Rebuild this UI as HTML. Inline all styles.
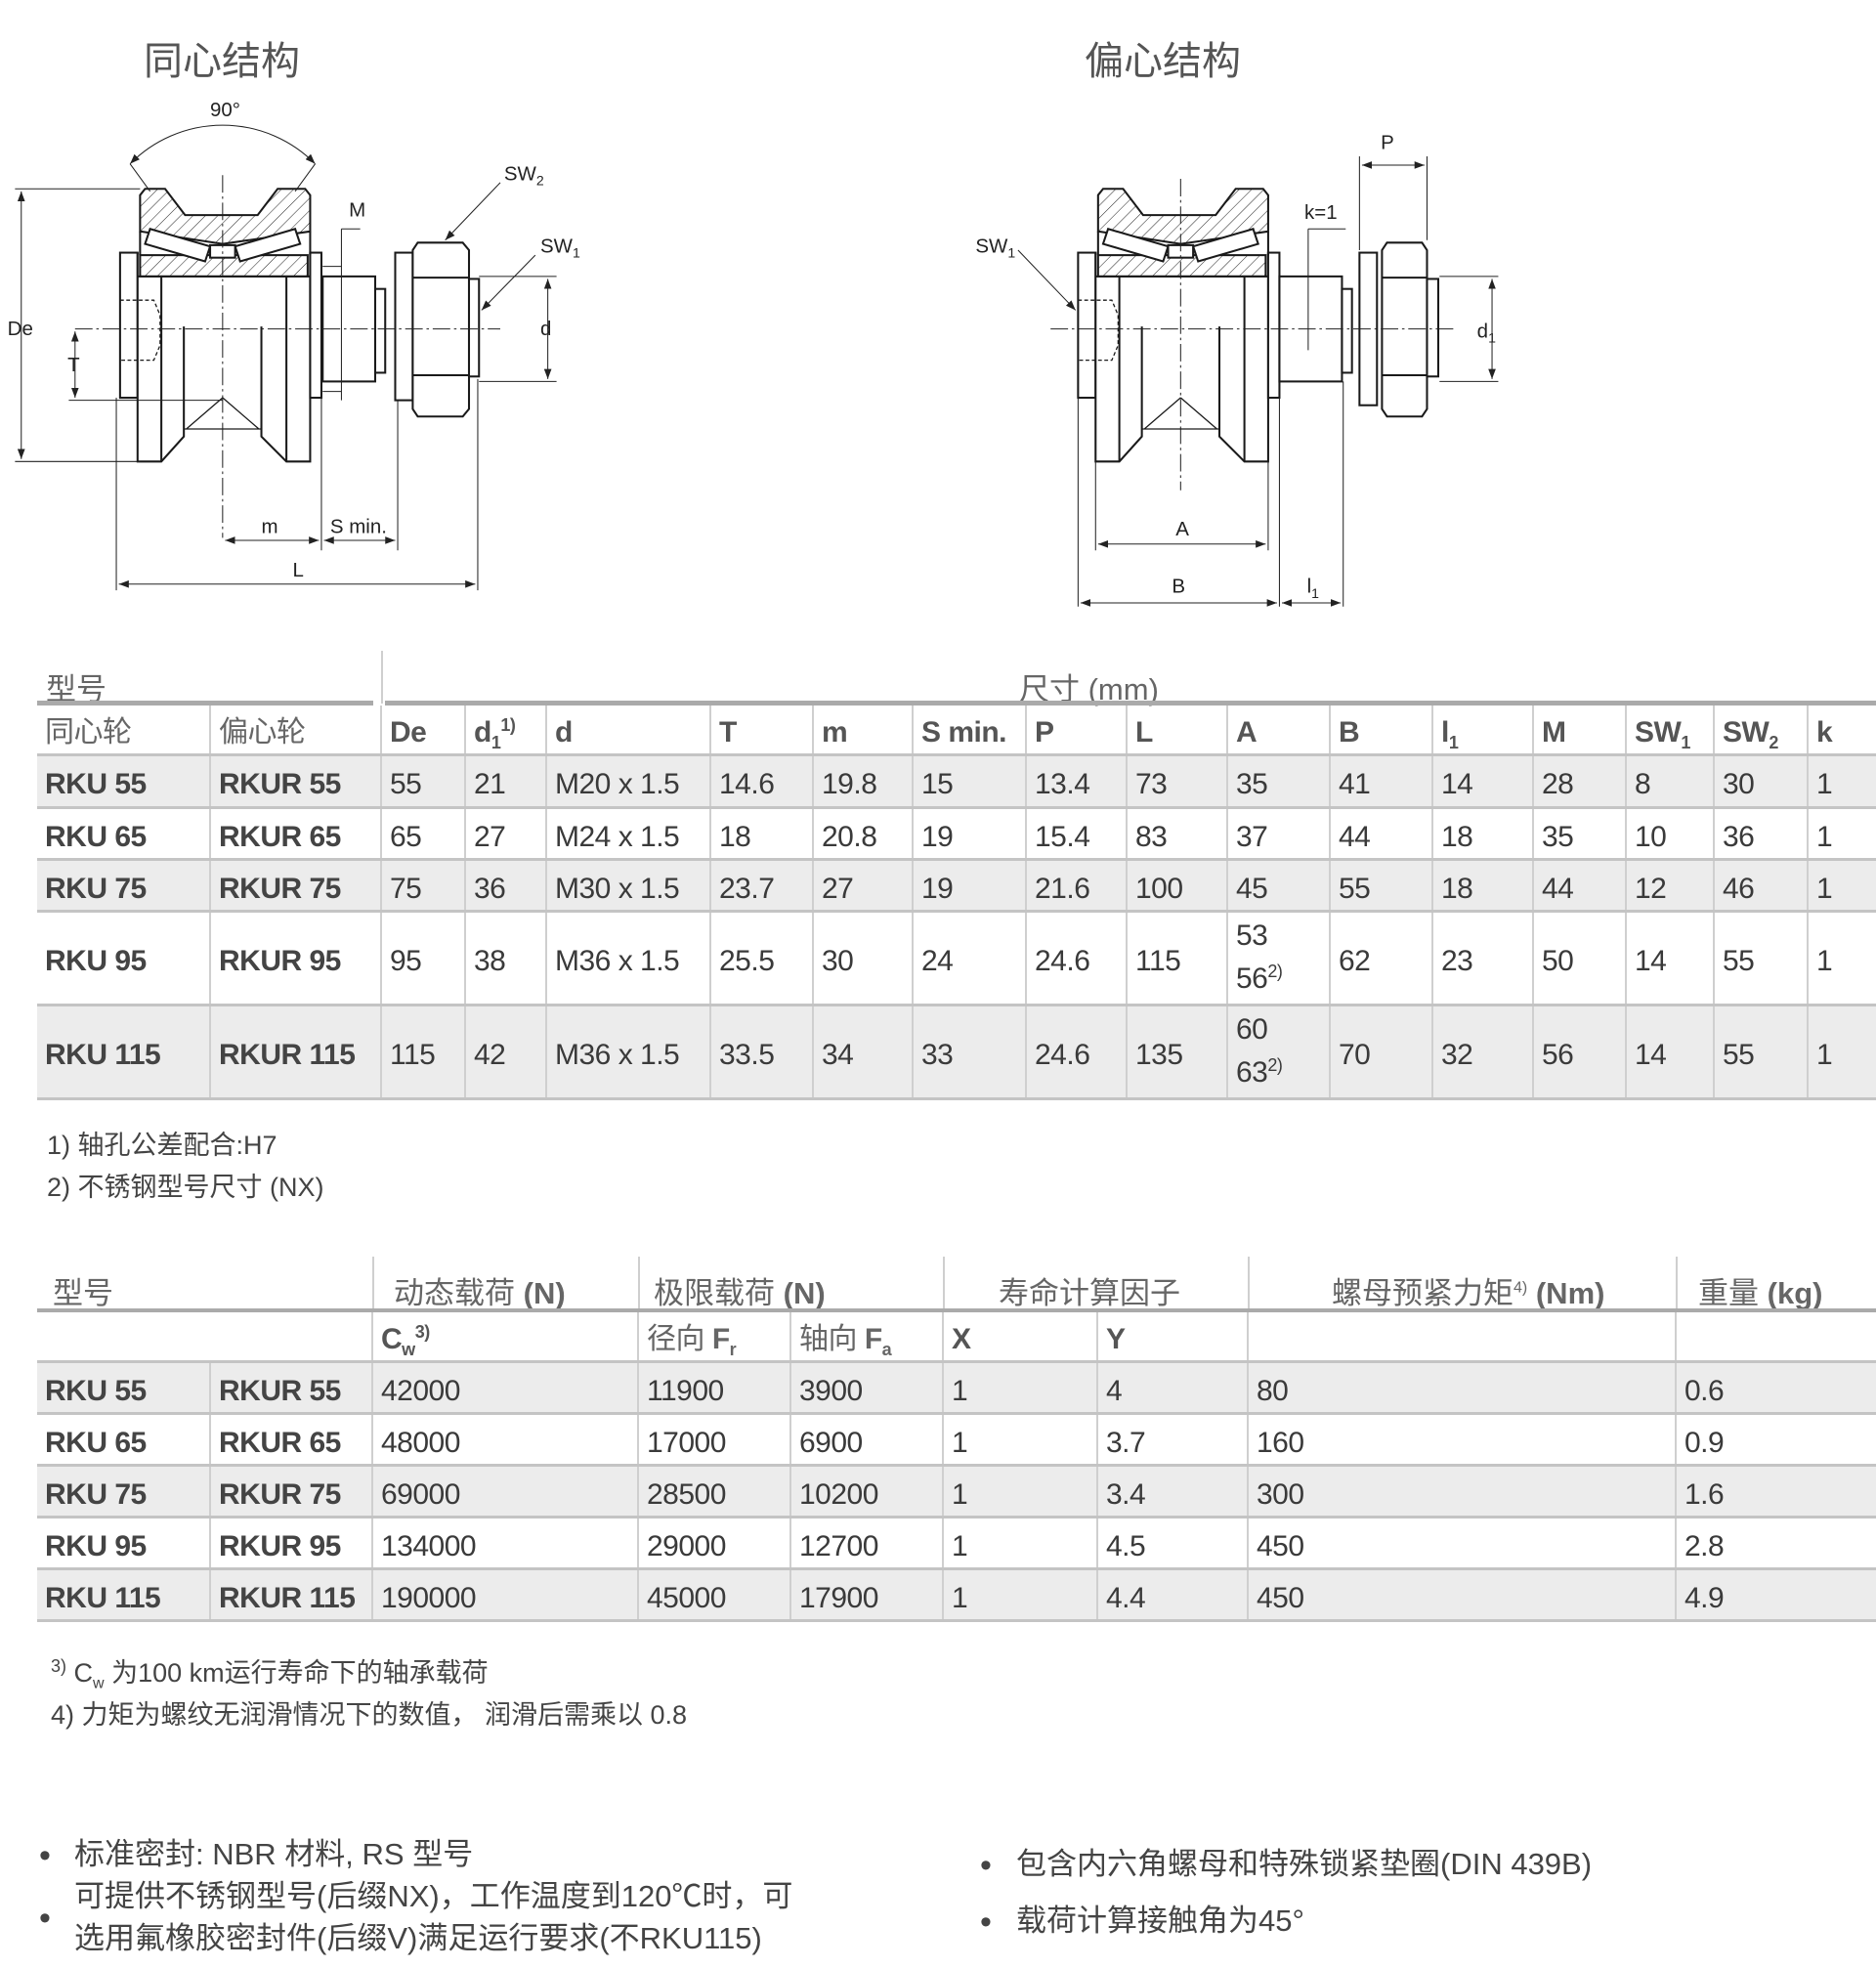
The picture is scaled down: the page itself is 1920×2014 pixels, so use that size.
<!DOCTYPE html>
<html><head><meta charset="utf-8">
<style>
*{margin:0;padding:0;box-sizing:border-box}
body{width:1920px;height:2014px;background:#fff;position:relative;overflow:hidden;font-family:"Liberation Sans Narrow","Liberation Sans","Noto Sans CJK SC",sans-serif;color:#3a3a3a}
.t{position:absolute;white-space:nowrap}
.cn{font-family:"Liberation Sans Narrow","Liberation Sans","Noto Sans CJK SC",sans-serif}
table{position:absolute;border-collapse:collapse;table-layout:fixed;font-size:30px;letter-spacing:-0.5px}
td{border-left:2px solid #cfcfcf;padding:8px 0 0 8px;vertical-align:middle;white-space:nowrap;overflow:visible;line-height:36px}
td:first-child{border-left:none}
tr.r td{border-bottom:3px solid #c4c4c4}
tr.s td{background:#ececec}
.b{font-weight:bold;color:#444}
.h{color:#555;font-weight:bold}
.hc{color:#666;font-weight:normal}
sub,sup{font-size:60%;line-height:0}
</style></head><body>

<div class="t cn" style="left:147px;top:30px;font-size:40px;color:#555">同心结构</div>
<div class="t cn" style="left:1110px;top:30px;font-size:40px;color:#555">偏心结构</div>

<svg style="position:absolute;left:0;top:0" width="1920" height="640" viewBox="0 0 1500 500">
<defs>
<pattern id="hp" width="7" height="7" patternUnits="userSpaceOnUse" patternTransform="rotate(45)"><line x1="0" y1="0" x2="0" y2="7" stroke="#222" stroke-width="0.8"/></pattern>
<marker id="ar" markerWidth="8" markerHeight="6" refX="8" refY="3" orient="auto-start-reverse" markerUnits="userSpaceOnUse"><path d="M0,0 L8,3 L0,6 z" fill="#222"/></marker>
<g id="wheel" fill="none" stroke="#1a1a1a" stroke-width="1.6">
 <rect x="-82" y="202" width="14" height="116" fill="#fff"/>
 <path d="M-68,202 V369 H-49 L-31,349 V261 M31,261 V349 L51,369 H70 V202" fill="#fff"/>
 <line x1="-49" y1="221" x2="-49" y2="369"/><line x1="51" y1="221" x2="51" y2="369"/>
 <line x1="-68" y1="221" x2="70" y2="221"/>
 <rect x="70" y="202" width="9" height="116" fill="#fff"/>
 <rect x="-66" y="204" width="134" height="17" fill="url(#hp)"/>
 <path d="M-66,156 L-62,151 H-46 L-30,172 H28 L44,151 H66 L70,156 V185 L0,195 L-66,185 Z" fill="url(#hp)"/>
 <path d="M-58,183 L-10,197 L-14,209 L-62,195 Z" fill="#fff"/>
 <path d="M58,183 L10,197 L14,209 L62,195 Z" fill="#fff"/>
 <rect x="-10" y="196" width="20" height="10" fill="#fff"/>
 <line x1="-66" y1="185" x2="-66" y2="204"/><line x1="70" y1="185" x2="70" y2="204"/>
 <path d="M0,318 L-29,343 M0,318 L29,343 M-31,343 H31" stroke-width="1"/>
 <path d="M-82,240 H-55 L-50,252 V276 L-55,288 H-82" stroke-dasharray="3,2" stroke-width="1"/>
</g>
</defs>

<use href="#wheel" x="178" y="0"/>
<g fill="#fff" stroke="#1a1a1a" stroke-width="1.6">
 <rect x="258" y="221" width="42" height="84"/>
 <rect x="300" y="231" width="8" height="67"/>
 <rect x="316" y="202" width="14" height="118"/>
 <path d="M334,194 H370 L375,200 V327 L370,333 H334 L330,327 V200 Z"/>
 <path d="M330,222 H375 M330,300 H375" fill="none"/>
 <rect x="375" y="223" width="8" height="78"/>
</g>
<g stroke="#222" stroke-width="0.8" fill="none">
 <path d="M60,263 H400" stroke-dasharray="14,3,2,3"/>
 <path d="M178,140 V430" stroke-dasharray="14,3,2,3"/>
 <path d="M12,151 H112 M12,369 H112"/>
 <line x1="17" y1="153" x2="17" y2="367" marker-start="url(#ar)" marker-end="url(#ar)"/>
 <path d="M55,320 H178"/>
 <line x1="60" y1="265" x2="60" y2="318" marker-start="url(#ar)" marker-end="url(#ar)"/>
 <path d="M383,221 H445 M383,305 H445"/>
 <line x1="438" y1="223" x2="438" y2="303" marker-start="url(#ar)" marker-end="url(#ar)"/>
 <path d="M273,183 H288 M273,183 V320 M258,213 H273 M258,313 H273"/>
 <path d="M257,318 V440 M318,320 V440 M93,318 V472 M382,303 V472"/>
 <line x1="180" y1="432" x2="255" y2="432" marker-start="url(#ar)" marker-end="url(#ar)"/>
 <line x1="259" y1="432" x2="316" y2="432" marker-start="url(#ar)" marker-end="url(#ar)"/>
 <line x1="95" y1="467" x2="380" y2="467" marker-start="url(#ar)" marker-end="url(#ar)"/>
 <path d="M104,131 A104,104 0 0 1 252,131" marker-start="url(#ar)" marker-end="url(#ar)"/>
 <path d="M104,131 L120,153 M252,131 L236,153"/>
 <line x1="400" y1="146" x2="356" y2="192" marker-end="url(#ar)"/>
 <line x1="428" y1="204" x2="385" y2="248" marker-end="url(#ar)"/>
</g>
<g font-family="Liberation Sans Narrow, Liberation Sans, sans-serif" font-size="16" fill="#222">
 <text x="168" y="93">90°</text>
 <text x="6" y="268">De</text>
 <text x="54" y="297">T</text>
 <text x="432" y="268">d</text>
 <text x="279" y="173">M</text>
 <text x="209" y="426">m</text>
 <text x="264" y="426">S min.</text>
 <text x="234" y="461">L</text>
 <text x="403" y="144">SW<tspan font-size="11" dy="4">2</tspan></text>
 <text x="432" y="202">SW<tspan font-size="11" dy="4">1</tspan></text>
</g>

<use href="#wheel" x="944" y="0"/>
<g fill="#fff" stroke="#1a1a1a" stroke-width="1.6">
 <rect x="1023" y="221" width="50" height="84"/>
 <rect x="1073" y="231" width="8" height="67"/>
 <rect x="1087" y="202" width="14" height="122"/>
 <path d="M1109,194 H1137 L1141,200 V327 L1137,333 H1109 L1105,327 V200 Z"/>
 <path d="M1105,222 H1141 M1105,300 H1141" fill="none"/>
 <rect x="1141" y="223" width="9" height="78"/>
</g>
<g stroke="#222" stroke-width="0.8" fill="none">
 <path d="M840,263 H1165" stroke-dasharray="14,3,2,3"/>
 <path d="M944,143 V392" stroke-dasharray="14,3,2,3"/>
 <path d="M1087,125 V200 M1141,125 V192"/>
 <line x1="1089" y1="132" x2="1139" y2="132" marker-start="url(#ar)" marker-end="url(#ar)"/>
 <path d="M1046,183 H1076 M1046,183 V280"/>
 <path d="M1151,221 H1198 M1151,305 H1198"/>
 <line x1="1193" y1="223" x2="1193" y2="303" marker-start="url(#ar)" marker-end="url(#ar)"/>
 <path d="M862,318 V485 M876,369 V440 M1014,369 V440 M1023,318 V485 M1074,305 V485"/>
 <line x1="878" y1="435" x2="1012" y2="435" marker-start="url(#ar)" marker-end="url(#ar)"/>
 <line x1="864" y1="482" x2="1021" y2="482" marker-start="url(#ar)" marker-end="url(#ar)"/>
 <line x1="1025" y1="482" x2="1072" y2="482" marker-start="url(#ar)" marker-end="url(#ar)"/>
 <line x1="814" y1="200" x2="860" y2="248" marker-end="url(#ar)"/>
</g>
<g font-family="Liberation Sans Narrow, Liberation Sans, sans-serif" font-size="16" fill="#222">
 <text x="1104" y="119">P</text>
 <text x="1043" y="175">k=1</text>
 <text x="1181" y="270">d<tspan font-size="11" dy="4">1</tspan></text>
 <text x="940" y="428">A</text>
 <text x="937" y="474">B</text>
 <text x="1045" y="474">l<tspan font-size="11" dy="4">1</tspan></text>
 <text x="780" y="202">SW<tspan font-size="11" dy="4">1</tspan></text>
</g>
</svg>

<!-- TABLE 1 -->
<div style="position:absolute;left:390px;top:666px;height:54px;border-left:2px solid #cfcfcf"></div>
<div class="t cn" style="left:47px;top:680px;font-size:31px;color:#666">型号</div>
<div class="t cn" style="left:1043px;top:680px;font-size:31px;color:#666">尺寸 (mm)</div>
<div style="position:absolute;left:38px;top:717px;width:344px;height:5px;background:#aaa"></div>
<div style="position:absolute;left:394px;top:717px;width:1526px;height:5px;background:#aaa"></div>
<table style="left:38px;top:722px;width:1882px">
<colgroup><col style="width:177px"><col style="width:175px"><col style="width:86px"><col style="width:83px"><col style="width:168px"><col style="width:105px"><col style="width:102px"><col style="width:116px"><col style="width:103px"><col style="width:103px"><col style="width:105px"><col style="width:105px"><col style="width:103px"><col style="width:95px"><col style="width:90px"><col style="width:96px"><col style="width:70px"></colgroup>
<tr class="r" style="height:50px"><td class="hc">同心轮</td><td class="hc">偏心轮</td><td class="h">De</td><td class="h">d<sub>1</sub><sup>1)</sup></td><td class="h">d</td><td class="h">T</td><td class="h">m</td><td class="h">S min.</td><td class="h">P</td><td class="h">L</td><td class="h">A</td><td class="h">B</td><td class="h">l<sub>1</sub></td><td class="h">M</td><td class="h">SW<sub>1</sub></td><td class="h">SW<sub>2</sub></td><td class="h">k</td></tr>
<tr class="r s" style="height:54px"><td class="b">RKU 55</td><td class="b">RKUR 55</td><td>55</td><td>21</td><td>M20 x 1.5</td><td>14.6</td><td>19.8</td><td>15</td><td>13.4</td><td>73</td><td>35</td><td>41</td><td>14</td><td>28</td><td>8</td><td>30</td><td>1</td></tr>
<tr class="r" style="height:53px"><td class="b">RKU 65</td><td class="b">RKUR 65</td><td>65</td><td>27</td><td>M24 x 1.5</td><td>18</td><td>20.8</td><td>19</td><td>15.4</td><td>83</td><td>37</td><td>44</td><td>18</td><td>35</td><td>10</td><td>36</td><td>1</td></tr>
<tr class="r s" style="height:53px"><td class="b">RKU 75</td><td class="b">RKUR 75</td><td>75</td><td>36</td><td>M30 x 1.5</td><td>23.7</td><td>27</td><td>19</td><td>21.6</td><td>100</td><td>45</td><td>55</td><td>18</td><td>44</td><td>12</td><td>46</td><td>1</td></tr>
<tr class="r" style="height:96px"><td class="b">RKU 95</td><td class="b">RKUR 95</td><td>95</td><td>38</td><td>M36 x 1.5</td><td>25.5</td><td>30</td><td>24</td><td>24.6</td><td>115</td><td style="line-height:44px;padding-top:0">53<br>56<sup>2)</sup></td><td>62</td><td>23</td><td>50</td><td>14</td><td>55</td><td>1</td></tr>
<tr class="r s" style="height:96px"><td class="b">RKU 115</td><td class="b">RKUR 115</td><td>115</td><td>42</td><td>M36 x 1.5</td><td>33.5</td><td>34</td><td>33</td><td>24.6</td><td>135</td><td style="line-height:44px;padding-top:0">60<br>63<sup>2)</sup></td><td>70</td><td>32</td><td>56</td><td>14</td><td>55</td><td>1</td></tr>
</table>
<div class="t cn" style="left:48px;top:1150px;font-size:27px;color:#444">1) 轴孔公差配合:H7</div>
<div class="t cn" style="left:48px;top:1193px;font-size:27px;color:#444">2) 不锈钢型号尺寸 (NX)</div>

<!-- TABLE 2 -->
<div style="position:absolute;left:381px;top:1286px;height:56px;border-left:2px solid #cfcfcf"></div>
<div style="position:absolute;left:653px;top:1286px;height:56px;border-left:2px solid #cfcfcf"></div>
<div style="position:absolute;left:965px;top:1286px;height:56px;border-left:2px solid #cfcfcf"></div>
<div style="position:absolute;left:1277px;top:1286px;height:56px;border-left:2px solid #cfcfcf"></div>
<div style="position:absolute;left:1715px;top:1286px;height:56px;border-left:2px solid #cfcfcf"></div>
<div class="t cn" style="top:1298px;left:54px;font-size:31px;color:#666">型号</div>
<div class="t cn" style="top:1298px;left:403px;font-size:31px;color:#666">动态载荷 <b>(N)</b></div>
<div class="t cn" style="top:1298px;left:669px;font-size:31px;color:#666">极限载荷 <b>(N)</b></div>
<div class="t cn" style="top:1298px;left:1022px;font-size:31px;color:#666">寿命计算因子</div>
<div class="t cn" style="top:1298px;left:1363px;font-size:31px;color:#666">螺母预紧力矩<sup style="font-size:16px">4)</sup> <b>(Nm)</b></div>
<div class="t cn" style="top:1298px;left:1738px;font-size:31px;color:#666">重量 <b>(kg)</b></div>
<div style="position:absolute;left:38px;top:1339px;width:1882px;height:4px;background:#aaa"></div>
<table style="left:38px;top:1343px;width:1882px">
<colgroup><col style="width:177px"><col style="width:166px"><col style="width:272px"><col style="width:156px"><col style="width:156px"><col style="width:158px"><col style="width:154px"><col style="width:438px"><col style="width:205px"></colgroup>
<tr class="r" style="height:50px"><td style="border-left:none"></td><td style="border-left:none"></td><td class="h">C<sub>w</sub><sup>3)</sup></td><td class="hc">径向 <b>F<sub>r</sub></b></td><td class="hc">轴向 <b>F<sub>a</sub></b></td><td class="h">X</td><td class="h">Y</td><td></td><td></td></tr>
<tr class="r s" style="height:53px"><td class="b">RKU 55</td><td class="b">RKUR 55</td><td>42000</td><td>11900</td><td>3900</td><td>1</td><td>4</td><td>80</td><td>0.6</td></tr>
<tr class="r" style="height:53px"><td class="b">RKU 65</td><td class="b">RKUR 65</td><td>48000</td><td>17000</td><td>6900</td><td>1</td><td>3.7</td><td>160</td><td>0.9</td></tr>
<tr class="r s" style="height:53px"><td class="b">RKU 75</td><td class="b">RKUR 75</td><td>69000</td><td>28500</td><td>10200</td><td>1</td><td>3.4</td><td>300</td><td>1.6</td></tr>
<tr class="r" style="height:53px"><td class="b">RKU 95</td><td class="b">RKUR 95</td><td>134000</td><td>29000</td><td>12700</td><td>1</td><td>4.5</td><td>450</td><td>2.8</td></tr>
<tr class="r s" style="height:53px"><td class="b">RKU 115</td><td class="b">RKUR 115</td><td>190000</td><td>45000</td><td>17900</td><td>1</td><td>4.4</td><td>450</td><td>4.9</td></tr>
</table>
<div class="t cn" style="left:52px;top:1690px;font-size:27px;color:#444"><sup style="font-size:18px">3)</sup> C<sub style="font-size:16px">w</sub> 为100 km运行寿命下的轴承载荷</div>
<div class="t cn" style="left:52px;top:1733px;font-size:27px;color:#444">4) 力矩为螺纹无润滑情况下的数值， 润滑后需乘以 0.8</div>

<div class="t cn" style="left:40px;top:1880px;font-size:34px;color:#444">•</div>
<div class="t cn" style="left:76px;top:1872px;font-size:31px;color:#444">标准密封: NBR 材料, RS 型号</div>
<div class="t cn" style="left:76px;top:1915px;font-size:31px;color:#444">可提供不锈钢型号(后缀NX)，工作温度到120℃时，可</div>
<div class="t cn" style="left:40px;top:1944px;font-size:34px;color:#444">•</div>
<div class="t cn" style="left:76px;top:1958px;font-size:31px;color:#444">选用氟橡胶密封件(后缀V)满足运行要求(不RKU115)</div>
<div class="t cn" style="left:1003px;top:1890px;font-size:34px;color:#444">•</div>
<div class="t cn" style="left:1040px;top:1882px;font-size:31px;color:#444">包含内六角螺母和特殊锁紧垫圈(DIN 439B)</div>
<div class="t cn" style="left:1003px;top:1948px;font-size:34px;color:#444">•</div>
<div class="t cn" style="left:1040px;top:1940px;font-size:31px;color:#444">载荷计算接触角为45°</div>
</body></html>
